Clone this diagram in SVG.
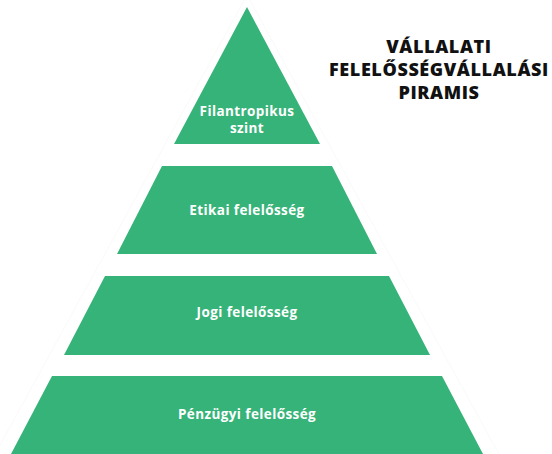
<svg xmlns="http://www.w3.org/2000/svg" width="552" height="454" viewBox="0 0 552 454">
<style>
.tier{fill:#36b378;}
.lbl{fill:#ffffff;font-family:"Open Sans","Liberation Sans",sans-serif;font-weight:700;font-size:13.5px;letter-spacing:0.4px;text-anchor:middle;}
.title{fill:#111111;font-family:"Open Sans","Liberation Sans",sans-serif;font-weight:800;font-size:18px;letter-spacing:0.6px;text-anchor:middle;}
.outline{fill:none;stroke:#f7f7f7;stroke-width:0.8;}
</style>
<rect width="552" height="454" fill="#ffffff"/>
<g id="outline">
<polyline class="outline" points="-12,467 247,-5 506,467"/>
</g>
<g id="tier-filantropikus">
<polygon class="tier" points="247,7 320,144 174,144"/>
<text class="lbl" x="247" y="116">Filantropikus</text>
<text class="lbl" x="247" y="133">szint</text>
</g>
<g id="tier-etikai">
<polygon class="tier" points="162,166 332,166 377,254 117,254"/>
<text class="lbl" x="247" y="215">Etikai felelősség</text>
</g>
<g id="tier-jogi">
<polygon class="tier" points="105,276 389,276 430,355 64,355"/>
<text class="lbl" x="247" y="317">Jogi felelősség</text>
</g>
<g id="tier-penzugyi">
<polygon class="tier" points="52,376 442,376 483,454 11,454"/>
<text class="lbl" x="247" y="419">Pénzügyi felelősség</text>
</g>
<g id="title">
<text class="title" x="439" y="53">VÁLLALATI</text>
<text class="title" x="439" y="76">FELELŐSSÉGVÁLLALÁSI</text>
<text class="title" x="439" y="99">PIRAMIS</text>
</g>
<g id="connectors"></g>
</svg>
